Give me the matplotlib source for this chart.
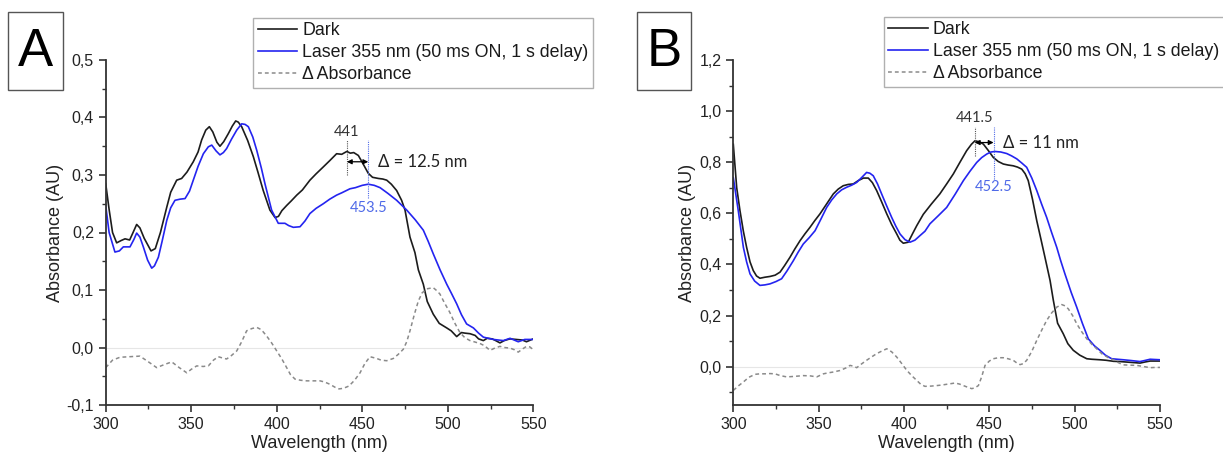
import matplotlib
matplotlib.use("Agg")
import matplotlib.pyplot as plt
from matplotlib.patches import Rectangle
from matplotlib.ticker import MultipleLocator, FuncFormatter

plt.rcParams['font.family'] = ['Liberation Sans', 'DejaVu Sans']

# ---------------- Panel A data ----------------
wl_A_dark = [300, 302, 304, 306.4, 309, 311.3, 314, 316, 318.1, 320, 322.5, 326.5, 329, 332, 335.7, 338,
             341.5, 344.4, 347.5, 351.2, 354, 356.1, 358.5, 360.6, 362.6, 365, 366.8, 369, 371.7, 374, 376,
             377.5, 379.5, 383, 386.3, 389, 392.1, 396, 399, 401, 403, 405.8, 408.5, 411.7, 415, 419.4, 423,
             427.2, 431, 435, 438, 441, 443, 445, 447.7, 450, 453.5, 456, 459.4, 462, 464.3, 467, 470.1, 473,
             475, 477.9, 480.8, 482.8, 485.7, 488, 491.5, 495, 499.4, 502, 505.2, 508, 510, 513, 516, 518,
             520.8, 523, 526, 528, 530.5, 533, 536.3, 540, 543.6, 546, 550]
abs_A_dark = [0.285, 0.24, 0.20, 0.182, 0.186, 0.189, 0.187, 0.200, 0.214, 0.208, 0.19, 0.168, 0.172, 0.20,
              0.244, 0.27, 0.291, 0.294, 0.305, 0.323, 0.340, 0.361, 0.378, 0.384, 0.375, 0.357, 0.350, 0.358,
              0.372, 0.385, 0.394, 0.392, 0.384, 0.360, 0.332, 0.305, 0.273, 0.239, 0.226, 0.228, 0.238, 0.247,
              0.255, 0.265, 0.274, 0.291, 0.302, 0.314, 0.325, 0.337, 0.336, 0.341, 0.338, 0.339, 0.334, 0.322,
              0.303, 0.296, 0.294, 0.293, 0.291, 0.284, 0.273, 0.256, 0.239, 0.192, 0.165, 0.135, 0.110, 0.080,
              0.058, 0.042, 0.034, 0.029, 0.019, 0.026, 0.025, 0.024, 0.021, 0.015, 0.012, 0.016, 0.015, 0.012,
              0.008, 0.012, 0.015, 0.014, 0.013, 0.010, 0.015]

wl_A_laser = [300, 302, 305.4, 308, 310.3, 314.2, 316.5, 318.1, 320, 322, 324.5, 326.9, 328.5, 330.8, 333,
              335.7, 338, 340.5, 343.5, 346.4, 349, 351.2, 354, 357.1, 360, 362, 364.5, 366.8, 368.8, 370.7,
              373.5, 376.6, 379.5, 381.5, 383.4, 386, 388.3, 391, 393.1, 397, 400.9, 404.8, 407, 409.7, 413.6,
              416.5, 419.4, 423, 427.2, 431, 435, 438, 442.8, 446, 450, 453.5, 457, 460.4, 465, 470.1, 476, 481,
              485.7, 488.5, 491.5, 495.5, 499.4, 502, 505.2, 508, 511, 515, 518, 520.8, 526.7, 532.5, 536.4,
              541.2, 545, 550]
abs_A_laser = [0.247, 0.200, 0.166, 0.168, 0.175, 0.175, 0.188, 0.199, 0.192, 0.175, 0.152, 0.138, 0.142,
               0.157, 0.185, 0.221, 0.243, 0.256, 0.258, 0.259, 0.272, 0.291, 0.315, 0.337, 0.349, 0.352, 0.342,
               0.335, 0.339, 0.346, 0.362, 0.378, 0.389, 0.388, 0.384, 0.366, 0.343, 0.312, 0.285, 0.239, 0.216,
               0.216, 0.212, 0.209, 0.210, 0.220, 0.233, 0.242, 0.250, 0.258, 0.265, 0.269, 0.276, 0.278, 0.282,
               0.284, 0.282, 0.278, 0.268, 0.256, 0.239, 0.222, 0.204, 0.185, 0.163, 0.135, 0.110, 0.095, 0.076,
               0.057, 0.041, 0.034, 0.025, 0.018, 0.014, 0.012, 0.016, 0.010, 0.014, 0.014]

wl_A_delta = [300, 304, 308.3, 314, 320, 325, 329.8, 334, 338.6, 343, 347.4, 350, 353.2, 357, 360, 363, 365.8,
              368, 370.7, 373.5, 376.6, 379.5, 382.4, 385.5, 388.3, 391, 394.1, 397, 400, 403, 405.8, 408,
              410.7, 414, 417.5, 421, 425.3, 428, 431.1, 434, 436.4, 439, 442.2, 445.5, 448.7, 451.5, 454.5,
              458.4, 461, 464.3, 468.2, 471, 474, 476, 477.9, 480.5, 482.8, 485, 487.7, 491.5, 493.5, 495.4,
              498, 501.2, 504, 507.1, 510, 513, 518.8, 521.5, 524.7, 527.5, 530.5, 533, 536.4, 539, 541.2,
              543.5, 546, 548, 550]
abs_A_delta = [-0.035, -0.022, -0.017, -0.016, -0.015, -0.025, -0.035, -0.030, -0.025, -0.035, -0.044, -0.038,
               -0.032, -0.033, -0.032, -0.022, -0.016, -0.018, -0.020, -0.014, -0.006, 0.010, 0.029, 0.033,
               0.035, 0.031, 0.020, 0.008, -0.006, -0.020, -0.035, -0.047, -0.055, -0.057, -0.058, -0.058,
               -0.058, -0.060, -0.064, -0.069, -0.072, -0.071, -0.067, -0.057, -0.044, -0.028, -0.016, -0.019,
               -0.022, -0.023, -0.019, -0.012, -0.003, 0.010, 0.029, 0.058, 0.081, 0.095, 0.102, 0.104, 0.099,
               0.093, 0.078, 0.061, 0.043, 0.026, 0.017, 0.012, 0.007, 0.003, -0.005, -0.001, 0.002, 0.000,
               -0.001, -0.004, -0.008, -0.003, 0.002, 0.001, -0.004]

# ---------------- Panel B data ----------------
wl_B_dark = [300, 302, 303.9, 305.9, 307.8, 309.8, 311.7, 313.6, 315.6, 318.5, 321.5, 324.5, 327.4, 330,
             333.2, 336, 339.1, 342, 344.9, 347.8, 350.8, 354.7, 358.6, 361.5, 364.4, 367.3, 370.3, 373.2,
             376.2, 379.1, 381.5, 384, 386.9, 389.9, 392.8, 395.7, 397.6, 399.6, 402.5, 405, 407.5, 411.3,
             416, 421, 425, 428.9, 432.8, 436.7, 439.5, 441.6, 444, 446.5, 449.5, 452.3, 455.2, 458.2, 461,
             464, 466.5, 469, 471, 472.8, 475.3, 477.8, 480.2, 482.6, 485.6, 487.5, 490, 493.3, 496, 499.2,
             503, 507.1, 510, 514.8, 518.5, 522.7, 526.5, 530.5, 534.5, 538.3, 541, 544.2, 547, 550]
abs_B_dark = [0.870, 0.700, 0.611, 0.530, 0.467, 0.410, 0.376, 0.355, 0.346, 0.350, 0.353, 0.358, 0.370,
              0.395, 0.428, 0.460, 0.493, 0.520, 0.545, 0.572, 0.598, 0.637, 0.676, 0.695, 0.708, 0.713, 0.715,
              0.728, 0.738, 0.738, 0.720, 0.689, 0.645, 0.598, 0.556, 0.520, 0.495, 0.483, 0.487, 0.520, 0.552,
              0.596, 0.636, 0.676, 0.715, 0.754, 0.800, 0.845, 0.870, 0.884, 0.880, 0.871, 0.845, 0.819, 0.803,
              0.793, 0.789, 0.786, 0.781, 0.773, 0.755, 0.728, 0.655, 0.571, 0.500, 0.428, 0.337, 0.260, 0.170,
              0.129, 0.090, 0.064, 0.045, 0.031, 0.029, 0.027, 0.025, 0.021, 0.020, 0.018, 0.016, 0.014, 0.018,
              0.022, 0.022, 0.022]

wl_B_laser = [300, 302.9, 305.9, 307.8, 309.8, 312.5, 315.6, 318.5, 321.5, 325, 328.3, 331.5, 335.2, 338,
              341, 344.5, 347.9, 351.3, 354.7, 357.6, 360.6, 363.5, 366.4, 369.3, 372.3, 375.2, 378.1, 380,
              382, 384.5, 386.9, 389.8, 392.8, 395.2, 397.7, 400.6, 403.5, 406.4, 409.4, 412.3, 415.2, 420,
              425, 430, 434.8, 438.7, 442.6, 445.5, 448.5, 451, 453.3, 456.7, 460.2, 463, 466.1, 469, 471.9,
              474.9, 477.8, 480.7, 483.6, 486.5, 489.5, 491.8, 494.3, 498, 501.2, 504.5, 508, 511.5, 514.8,
              518, 521.7, 525, 528.5, 533, 538.3, 541, 544.2, 547, 550]
abs_B_laser = [0.740, 0.611, 0.467, 0.410, 0.363, 0.335, 0.318, 0.320, 0.324, 0.333, 0.344, 0.375, 0.415,
               0.448, 0.480, 0.505, 0.532, 0.577, 0.623, 0.652, 0.676, 0.692, 0.702, 0.710, 0.721, 0.740, 0.760,
               0.757, 0.747, 0.715, 0.676, 0.630, 0.584, 0.550, 0.519, 0.497, 0.487, 0.495, 0.513, 0.530, 0.559,
               0.590, 0.623, 0.675, 0.728, 0.765, 0.799, 0.818, 0.832, 0.840, 0.842, 0.840, 0.834, 0.825, 0.813,
               0.797, 0.780, 0.738, 0.689, 0.635, 0.584, 0.525, 0.467, 0.415, 0.363, 0.290, 0.233, 0.170, 0.109,
               0.082, 0.064, 0.045, 0.031, 0.029, 0.027, 0.024, 0.020, 0.024, 0.029, 0.028, 0.027]

wl_B_delta = [300, 303, 305.9, 309, 312.7, 315.6, 318.6, 321.5, 324.4, 327.5, 331.3, 336, 341, 345, 348.9,
              352.8, 355.7, 358.6, 362.5, 366, 368.4, 370.4, 372.3, 375, 378.1, 381, 384, 387, 389.9, 392.8,
              395.7, 398.7, 401.6, 404.5, 407.5, 410, 412.3, 416, 419.2, 422, 425, 428, 429.9, 432.5, 434.8,
              437.5, 439.7, 441.5, 443.6, 445.5, 447.5, 450, 452.3, 455.3, 458.2, 461, 464, 466, 468, 470,
              471.9, 474.9, 477.8, 480.7, 483.6, 486.5, 489.5, 492.4, 494.4, 496.3, 498.8, 501.2, 504, 507.1,
              510, 512.9, 516, 519.5, 522.7, 525.5, 528.5, 532, 536.3, 540, 544.2, 547, 550]
abs_B_delta = [-0.093, -0.075, -0.060, -0.042, -0.030, -0.028, -0.028, -0.027, -0.028, -0.035, -0.040, -0.038,
               -0.035, -0.036, -0.040, -0.028, -0.024, -0.021, -0.015, -0.005, 0.005, 0.002, -0.004, 0.010,
               0.025, 0.038, 0.051, 0.061, 0.070, 0.058, 0.038, 0.012, -0.014, -0.035, -0.054, -0.070, -0.077,
               -0.076, -0.074, -0.072, -0.069, -0.066, -0.064, -0.068, -0.074, -0.081, -0.086, -0.083, -0.074,
               -0.040, 0.005, 0.022, 0.031, 0.035, 0.035, 0.031, 0.025, 0.015, 0.008, 0.012, 0.025, 0.060, 0.103,
               0.143, 0.181, 0.210, 0.233, 0.243, 0.238, 0.226, 0.200, 0.168, 0.138, 0.109, 0.088, 0.070, 0.050,
               0.036, 0.027, 0.016, 0.007, 0.006, 0.005, 0.001, -0.004, -0.003, -0.003]

legend_labels = ["Dark", "Laser 355 nm (50 ms ON, 1 s delay)", "\u0394 Absorbance"]
panel_letters = ["A", "B"]

# peak annotations: (dark peak, laser peak, delta text)
peaks_A = (441, 453.5, "\u0394 = 12.5 nm")
peaks_B = (441.5, 452.5, "\u0394 = 11 nm")
peak_labels_A = ("441", "453.5")
peak_labels_B = ("441.5", "452.5")

DARK = '#1c1c1c'
BLUE = '#2424f0'
GREY = '#8a8a8a'
ANN_BLUE = '#4f6ae8'
ANN_FONT = ['Lato', 'DejaVu Sans']

fig = plt.figure(figsize=(12.23, 4.59), dpi=100)
axA = fig.add_axes([105.7/1223, 1-405/459, (533.3-105.7)/1223, (405-60)/459])
axB = fig.add_axes([733.3/1223, 1-405/459, (1160-733.3)/1223, (405-60)/459])

comma = FuncFormatter(lambda v, p: f"{v:.1f}".replace('.', ',').replace('-0,0', '0,0'))


def style(ax, ylim, ymaj, ymin):
    ax.set_xlim(300, 550)
    ax.set_ylim(*ylim)
    ax.xaxis.set_major_locator(MultipleLocator(50))
    ax.xaxis.set_minor_locator(MultipleLocator(25))
    ax.yaxis.set_major_locator(MultipleLocator(ymaj))
    ax.yaxis.set_minor_locator(MultipleLocator(ymin))
    ax.yaxis.set_major_formatter(comma)
    for s in ['top', 'right']:
        ax.spines[s].set_visible(False)
    for s in ['left', 'bottom']:
        ax.spines[s].set_linewidth(1.3)
        ax.spines[s].set_color('#333333')
    ax.tick_params(which='major', direction='out', length=5, width=1.2, color='#333333',
                   labelsize=11.5, labelcolor='#222222')
    ax.tick_params(which='minor', direction='out', length=3, width=1.0, color='#333333')
    ax.set_xlabel("Wavelength (nm)", fontsize=13, color='#222222', labelpad=2)
    ax.set_ylabel("Absorbance (AU)", fontsize=13, color='#222222', labelpad=2)
    ax.axhline(0, color='#e6e6e6', lw=0.8, zorder=0)


def draw(ax, wd, ad, wl, al, wdel, adel):
    h1, = ax.plot(wd, ad, color=DARK, lw=1.2)
    h2, = ax.plot(wl, al, color=BLUE, lw=1.2)
    h3, = ax.plot(wdel, adel, color=GREY, lw=1.1, ls=(0, (2.5, 2)))
    return [h1, h2, h3]


def annotate(ax, peaks, labels, ydark, ylaser, ytop, yarrow, ytxt_top, ytxt_bot, fs_small, fs_big):
    xd, xl, dtxt = peaks
    ax.plot([xd, xd], [ydark, ytop], color='#555555', lw=0.8, ls=(0, (1, 1)))
    ax.plot([xl, xl], [ylaser, ytop], color=ANN_BLUE, lw=0.8, ls=(0, (1, 1)))
    ax.text(xd, ytxt_top, labels[0], ha='center', va='center', fontsize=fs_small,
            color='#333333', family=ANN_FONT)
    ax.text(xl, ytxt_bot, labels[1], ha='center', va='center', fontsize=fs_small,
            color=ANN_BLUE, family=ANN_FONT)
    ax.annotate('', xy=(xd, yarrow), xytext=(xl, yarrow),
                arrowprops=dict(arrowstyle='<|-|>', color='black', lw=0.9,
                                mutation_scale=7, shrinkA=0, shrinkB=0))
    ax.text(xl + 5.5, yarrow, dtxt, ha='left', va='center', fontsize=fs_big,
            color='#222222', family=ANN_FONT)


style(axA, (-0.1, 0.5), 0.1, 0.05)
style(axB, (-0.15, 1.2), 0.2, 0.1)

hA = draw(axA, wl_A_dark, abs_A_dark, wl_A_laser, abs_A_laser, wl_A_delta, abs_A_delta)
hB = draw(axB, wl_B_dark, abs_B_dark, wl_B_laser, abs_B_laser, wl_B_delta, abs_B_delta)

annotate(axA, peaks_A, peak_labels_A, 0.300, 0.260, 0.361, 0.323, 0.375, 0.242, 10.5, 12)
annotate(axB, peaks_B, peak_labels_B, 0.825, 0.734, 0.936, 0.877, 0.975, 0.704, 10.5, 12)

leg_kw = dict(fontsize=12.8, frameon=True, fancybox=False, framealpha=1, edgecolor='#b0b0b0',
              borderpad=0.25, labelspacing=0.28, handlelength=2.2, handletextpad=0.3, borderaxespad=0)
lA = fig.legend(hA, legend_labels, loc='upper right', bbox_to_anchor=(593/1223, 1-18/459), **leg_kw)
lB = fig.legend(hB, legend_labels, loc='upper left', bbox_to_anchor=(884/1223, 1-17/459), **leg_kw)
for lg in (lA, lB):
    lg.get_frame().set_linewidth(1.0)
    for t in lg.get_texts():
        t.set_color('#1a1a1a')

# panel letter boxes
for (x0, x1), letter in zip([(8, 63), (637, 691)], panel_letters):
    fig.patches.append(Rectangle((x0/1223, 1-90/459), (x1-x0)/1223, 78/459, transform=fig.transFigure,
                                 fill=False, edgecolor='#555555', lw=1.0))
    fig.text((x0+x1)/2/1223, 1-52/459, letter, ha='center', va='center', fontsize=38, color='black')

fig.savefig("out.png", dpi=100)
